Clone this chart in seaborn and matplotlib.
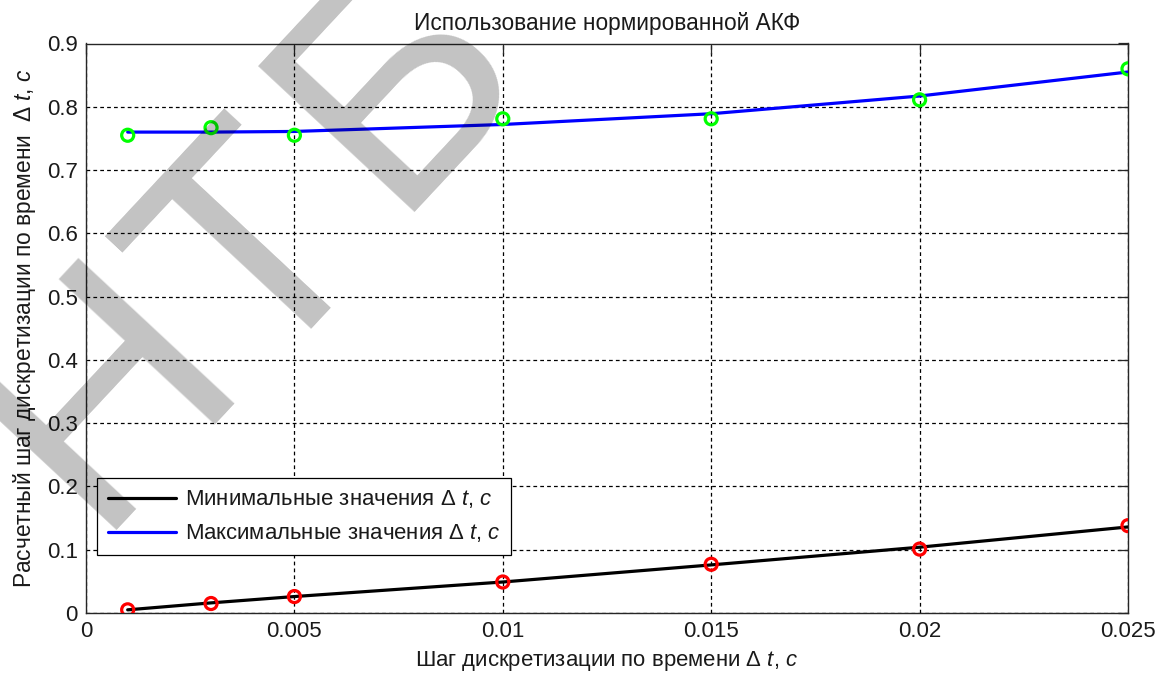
import numpy as np
import pandas as pd
import matplotlib
matplotlib.use("Agg")
import matplotlib.pyplot as plt
import seaborn as sns

# ---- data ----
dt = [0.001, 0.003, 0.005, 0.01, 0.015, 0.02, 0.025]
max_points = [0.755, 0.767, 0.755, 0.781, 0.781, 0.811, 0.860]
max_fit = [0.760, 0.760, 0.761, 0.772, 0.789, 0.817, 0.855]
min_points = [0.005, 0.015, 0.026, 0.049, 0.077, 0.101, 0.138]
min_fit = [0.005, 0.016, 0.026, 0.049, 0.076, 0.104, 0.136]
x_ticks = [0, 0.005, 0.01, 0.015, 0.02, 0.025]
x_tick_labels = ["0", "0.005", "0.01", "0.015", "0.02", "0.025"]
y_ticks = [0, 0.1, 0.2, 0.3, 0.4, 0.5, 0.6, 0.7, 0.8, 0.9]
y_tick_labels = ["0", "0.1", "0.2", "0.3", "0.4", "0.5", "0.6", "0.7", "0.8", "0.9"]

title = "Использование нормированной АКФ"
xlabel = "Шаг дискретизации по времени Δ $t$, $с$"
ylabel = "Расчетный шаг дискретизации по времени  Δ $t$, $с$"
label_min = "Минимальные значения Δ $t$, $с$"
label_max = "Максимальные значения Δ $t$, $с$"
watermark_letters = ["Н", "Т", "Б"]

sns.set_theme(style="white")
plt.rcParams["font.family"] = ["Liberation Sans", "DejaVu Sans"]
plt.rcParams["mathtext.fontset"] = "custom"
plt.rcParams["mathtext.rm"] = "Liberation Sans"
plt.rcParams["mathtext.it"] = "Liberation Sans:italic"
plt.rcParams["mathtext.bf"] = "Liberation Sans:bold"

df = pd.DataFrame({"dt": dt, "max_pts": max_points, "max_fit": max_fit,
                   "min_pts": min_points, "min_fit": min_fit})

W, H = 1163, 677
fig = plt.figure(figsize=(W / 100, H / 100), dpi=100)
ax = fig.add_axes([86 / W, 1 - 613 / H, (1128 - 86) / W, (613 - 43.5) / H])

sns.lineplot(data=df, x="dt", y="min_fit", ax=ax, color="black", linewidth=2.3,
             label=label_min, zorder=3)
sns.lineplot(data=df, x="dt", y="max_fit", ax=ax, color="#0000ff", linewidth=2.3,
             label=label_max, zorder=3)
sns.scatterplot(data=df, x="dt", y="min_pts", ax=ax, marker="o", s=75,
                facecolors="none", edgecolor="#ff0000", linewidth=2.3, zorder=4,
                legend=False)
sns.scatterplot(data=df, x="dt", y="max_pts", ax=ax, marker="o", s=75,
                facecolors="none", edgecolor="#00ff00", linewidth=2.3, zorder=4,
                legend=False)

ax.set_xlim(0, 0.025)
ax.set_ylim(0, 0.9)
ax.set_xticks(x_ticks)
ax.set_xticklabels(x_tick_labels)
ax.set_yticks(y_ticks)
ax.set_yticklabels(y_tick_labels)

ax.grid(True, color="black", linestyle=(0, (3, 2.5)), linewidth=0.9)
ax.set_axisbelow(True)
for s in ax.spines.values():
    s.set_visible(True)
    s.set_color("#262626")
    s.set_linewidth(1.0)
ax.tick_params(direction="in", length=7.5, width=0.9, colors="#262626",
               top=True, right=True, labelsize=16, pad=6,
               labelcolor="#1a1a1a")

ax.set_title(title, fontsize=16.3, pad=10, color="#1a1a1a")
ax.set_xlabel(xlabel, fontsize=15.9, labelpad=5, color="#1a1a1a")
ax.set_ylabel(ylabel, fontsize=16.4, labelpad=6, color="#1a1a1a")

leg = ax.legend(loc="lower left", bbox_to_anchor=(0.0106, 0.1018),
                borderaxespad=0, fontsize=15.9, frameon=True, fancybox=False,
                framealpha=1, edgecolor="black", handlelength=3.1,
                handletextpad=0.4, labelspacing=0.55, borderpad=0.48)
leg.get_frame().set_linewidth(0.9)
for t in leg.get_texts():
    t.set_color("#1a1a1a")

# watermark letters (multiply-like overlay), placed in figure pixels
wm_anchor_px = [(92, 530), (255, 382), (390, 212)]
for letter, (px, py) in zip(watermark_letters, wm_anchor_px):
    fig.text(px / W, 1 - py / H, letter, fontsize=223, rotation=47,
             rotation_mode="anchor", ha="left", va="baseline", color="black",
             alpha=0.24, zorder=100)

fig.savefig("out.png", dpi=100)
